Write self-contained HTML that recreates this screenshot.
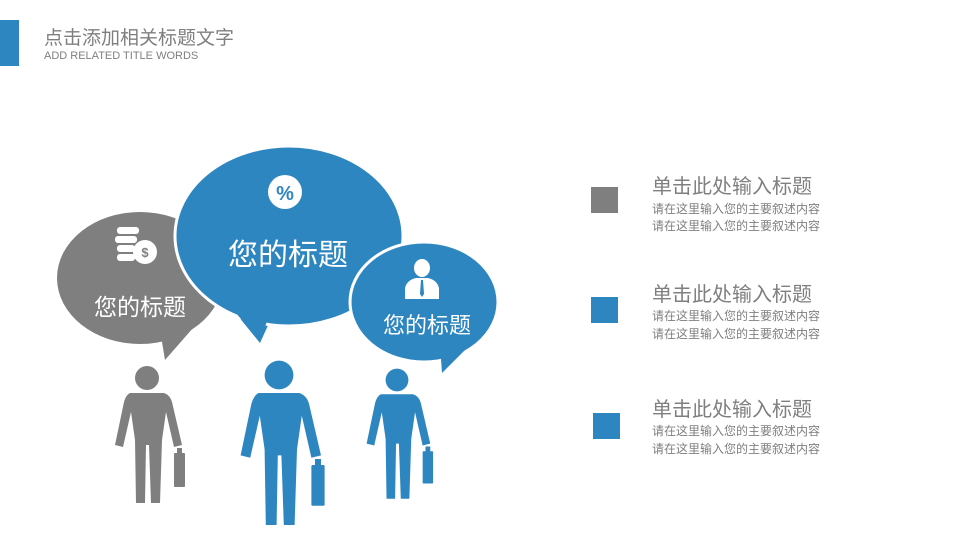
<!DOCTYPE html>
<html><head><meta charset="utf-8"><style>
body{margin:0;background:#fff;width:960px;height:540px;overflow:hidden;font-family:"Liberation Sans","Noto Sans CJK SC",sans-serif;}
</style></head><body>
<svg width="960" height="540" viewBox="0 0 960 540" xmlns="http://www.w3.org/2000/svg" style="position:absolute;left:0;top:0">
<rect x="0" y="20" width="19" height="46" fill="#2e86c1"/>
<text x="44" y="44" font-size="19" fill="#7f7f7f" font-family="Liberation Sans,Noto Sans CJK SC,sans-serif">点击添加相关标题文字</text>
<text x="44" y="59" font-size="11" fill="#7f7f7f" font-family="Liberation Sans,sans-serif">ADD RELATED TITLE WORDS</text>

<!-- gray bubble -->
<ellipse cx="140" cy="278" rx="83" ry="66" fill="#7f7f7f"/>
<path d="M160,330 L200,320 L165,360 Z" fill="#7f7f7f"/>
<!-- big blue -->
<path d="M225,300 L275,310 L260,343 Z" fill="#2e86c1" stroke="#fff" stroke-width="0"/>
<ellipse cx="289" cy="236" rx="114" ry="90" fill="#2e86c1" stroke="#fff" stroke-width="3"/>
<path d="M222,296 L270,312 L260,342 Z" fill="#2e86c1"/>
<!-- small blue -->
<ellipse cx="424" cy="302" rx="74" ry="60" fill="#2e86c1" stroke="#fff" stroke-width="3"/>
<path d="M440,345 L475,340 L442,373 Z" fill="#2e86c1"/>

<!-- icons -->
<g fill="#fff">
<rect x="117" y="227" width="22" height="7" rx="3"/>
<rect x="115" y="236" width="22" height="7" rx="3"/>
<rect x="117" y="245" width="18" height="7" rx="3"/>
<rect x="117" y="254" width="18" height="7" rx="3"/>
<circle cx="145" cy="252" r="12"/>
</g>
<text x="145" y="257" font-size="13" font-weight="bold" fill="#7f7f7f" text-anchor="middle">$</text>
<circle cx="285" cy="192" r="17" fill="#fff"/>
<text x="285" y="200" font-size="20" font-weight="bold" fill="#2e86c1" text-anchor="middle">%</text>
<g fill="#fff">
<ellipse cx="422" cy="268" rx="8" ry="9"/>
<path d="M405,299 L405,288 Q407,280 416,278 L428,278 Q437,280 439,288 L439,299 Z"/>
</g>
<path d="M421,280 L423,280 L424,294 L422,297 L420,294 Z" fill="#2e86c1"/>

<g fill="#fff" font-family="Liberation Sans,Noto Sans CJK SC,sans-serif">
<text x="140" y="315" font-size="23" text-anchor="middle">您的标题</text>
<text x="288" y="265" font-size="30" text-anchor="middle">您的标题</text>
<text x="427" y="333" font-size="22" text-anchor="middle">您的标题</text>
</g>

<defs>
<g id="p">
<circle cx="147" cy="378" r="12"/>
<path d="M130,393 L164,393 Q170,395 172,402 L182,445 L174,447 L166,412 L162,440 L160,503 L151,503 L149,445 L146,445 L145,503 L136,503 L135,440 L131,412 L123,447 L115,445 L124,402 Q126,395 130,393 Z"/>
<rect x="174" y="453" width="11" height="34" rx="1"/>
<rect x="177" y="448" width="5" height="6"/>
</g>
</defs>
<use href="#p" fill="#7f7f7f"/>
<use href="#p" fill="#2e86c1" transform="translate(279,375) scale(1.2) translate(-147,-378)"/>
<use href="#p" fill="#2e86c1" transform="translate(397,380) scale(0.95) translate(-147,-378)"/>

<rect x="591" y="187" width="27" height="26" fill="#7f7f7f"/>
<rect x="591" y="297" width="27" height="26" fill="#2e86c1"/>
<rect x="593" y="413" width="27" height="26" fill="#2e86c1"/>
<g fill="#7f7f7f" font-family="Liberation Sans,Noto Sans CJK SC,sans-serif">
<text x="652" y="193" font-size="20">单击此处输入标题</text>
<text x="652" y="213" font-size="12">请在这里输入您的主要叙述内容</text>
<text x="652" y="230" font-size="12">请在这里输入您的主要叙述内容</text>
<text x="652" y="301" font-size="20">单击此处输入标题</text>
<text x="652" y="320" font-size="12">请在这里输入您的主要叙述内容</text>
<text x="652" y="338" font-size="12">请在这里输入您的主要叙述内容</text>
<text x="652" y="416" font-size="20">单击此处输入标题</text>
<text x="652" y="435" font-size="12">请在这里输入您的主要叙述内容</text>
<text x="652" y="453" font-size="12">请在这里输入您的主要叙述内容</text>
</g>
</svg>
</body></html>
